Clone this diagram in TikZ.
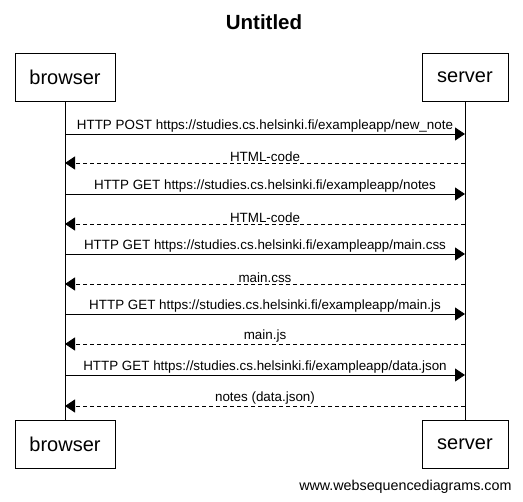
\documentclass[tikz,border=0pt]{standalone}
\usepackage{fontspec}
\setmainfont{Liberation Sans}
\usetikzlibrary{arrows.meta}
\begin{document}
\begin{tikzpicture}[x=1pt,y=-1pt,
  actor/.style={draw,line width=0.8pt,minimum height=48pt,inner sep=0pt,font=\fontsize{20}{22}\selectfont,anchor=north},
  msg/.style={line width=0.8pt,-{Triangle[length=10pt,width=13pt]}},
  reply/.style={msg,dash pattern=on 4pt off 3pt},
  lbl/.style={font=\fontsize{13.4}{15}\selectfont,inner sep=1pt,anchor=south}]
\useasboundingbox (0,0) rectangle (523,502);
\node[font=\bfseries\fontsize{20.5}{23}\selectfont] (title) at (264,22) {Untitled};
\node[actor,minimum width=100pt] (bt) at (65,53) {browser};
\node[actor,minimum width=86pt] (st) at (465,53) {server};
\node[actor,minimum width=100pt] (bb) at (65,420) {browser};
\node[actor,minimum width=86pt] (sb) at (465,420) {server};
\draw[line width=0.8pt] (bt.south) -- (bb.north);
\draw[line width=0.8pt] (st.south) -- (sb.north);
\foreach \y/\t/\s [count=\i] in {
 134/{HTTP POST https://studies.cs.helsinki.fi/exampleapp/new\_note}/msg,
 163/{HTML-code}/reply,
 194/{HTTP GET https://studies.cs.helsinki.fi/exampleapp/notes}/msg,
 224/{HTML-code}/reply,
 254/{HTTP GET https://studies.cs.helsinki.fi/exampleapp/main.css}/msg,
 284/{main.css}/reply,
 314/{HTTP GET https://studies.cs.helsinki.fi/exampleapp/main.js}/msg,
 344/{main.js}/reply,
 375/{HTTP GET https://studies.cs.helsinki.fi/exampleapp/data.json}/msg,
 406/{notes (data.json)}/reply} {
  \coordinate (b\i) at (bt.south |- 0,\y);
  \coordinate (s\i) at (st.south |- 0,\y);
  \ifodd\i
    \draw[\s] (b\i) -- (s\i) node[lbl,midway] (l\i) {\t};
  \else
    \draw[\s] (s\i) -- (b\i) node[lbl,midway] (l\i) {\t};
  \fi
}
\node[font=\fontsize{14.3}{16}\selectfont,anchor=east] (foot) at (515,487) {www.websequencediagrams.com};
\end{tikzpicture}
\end{document}
